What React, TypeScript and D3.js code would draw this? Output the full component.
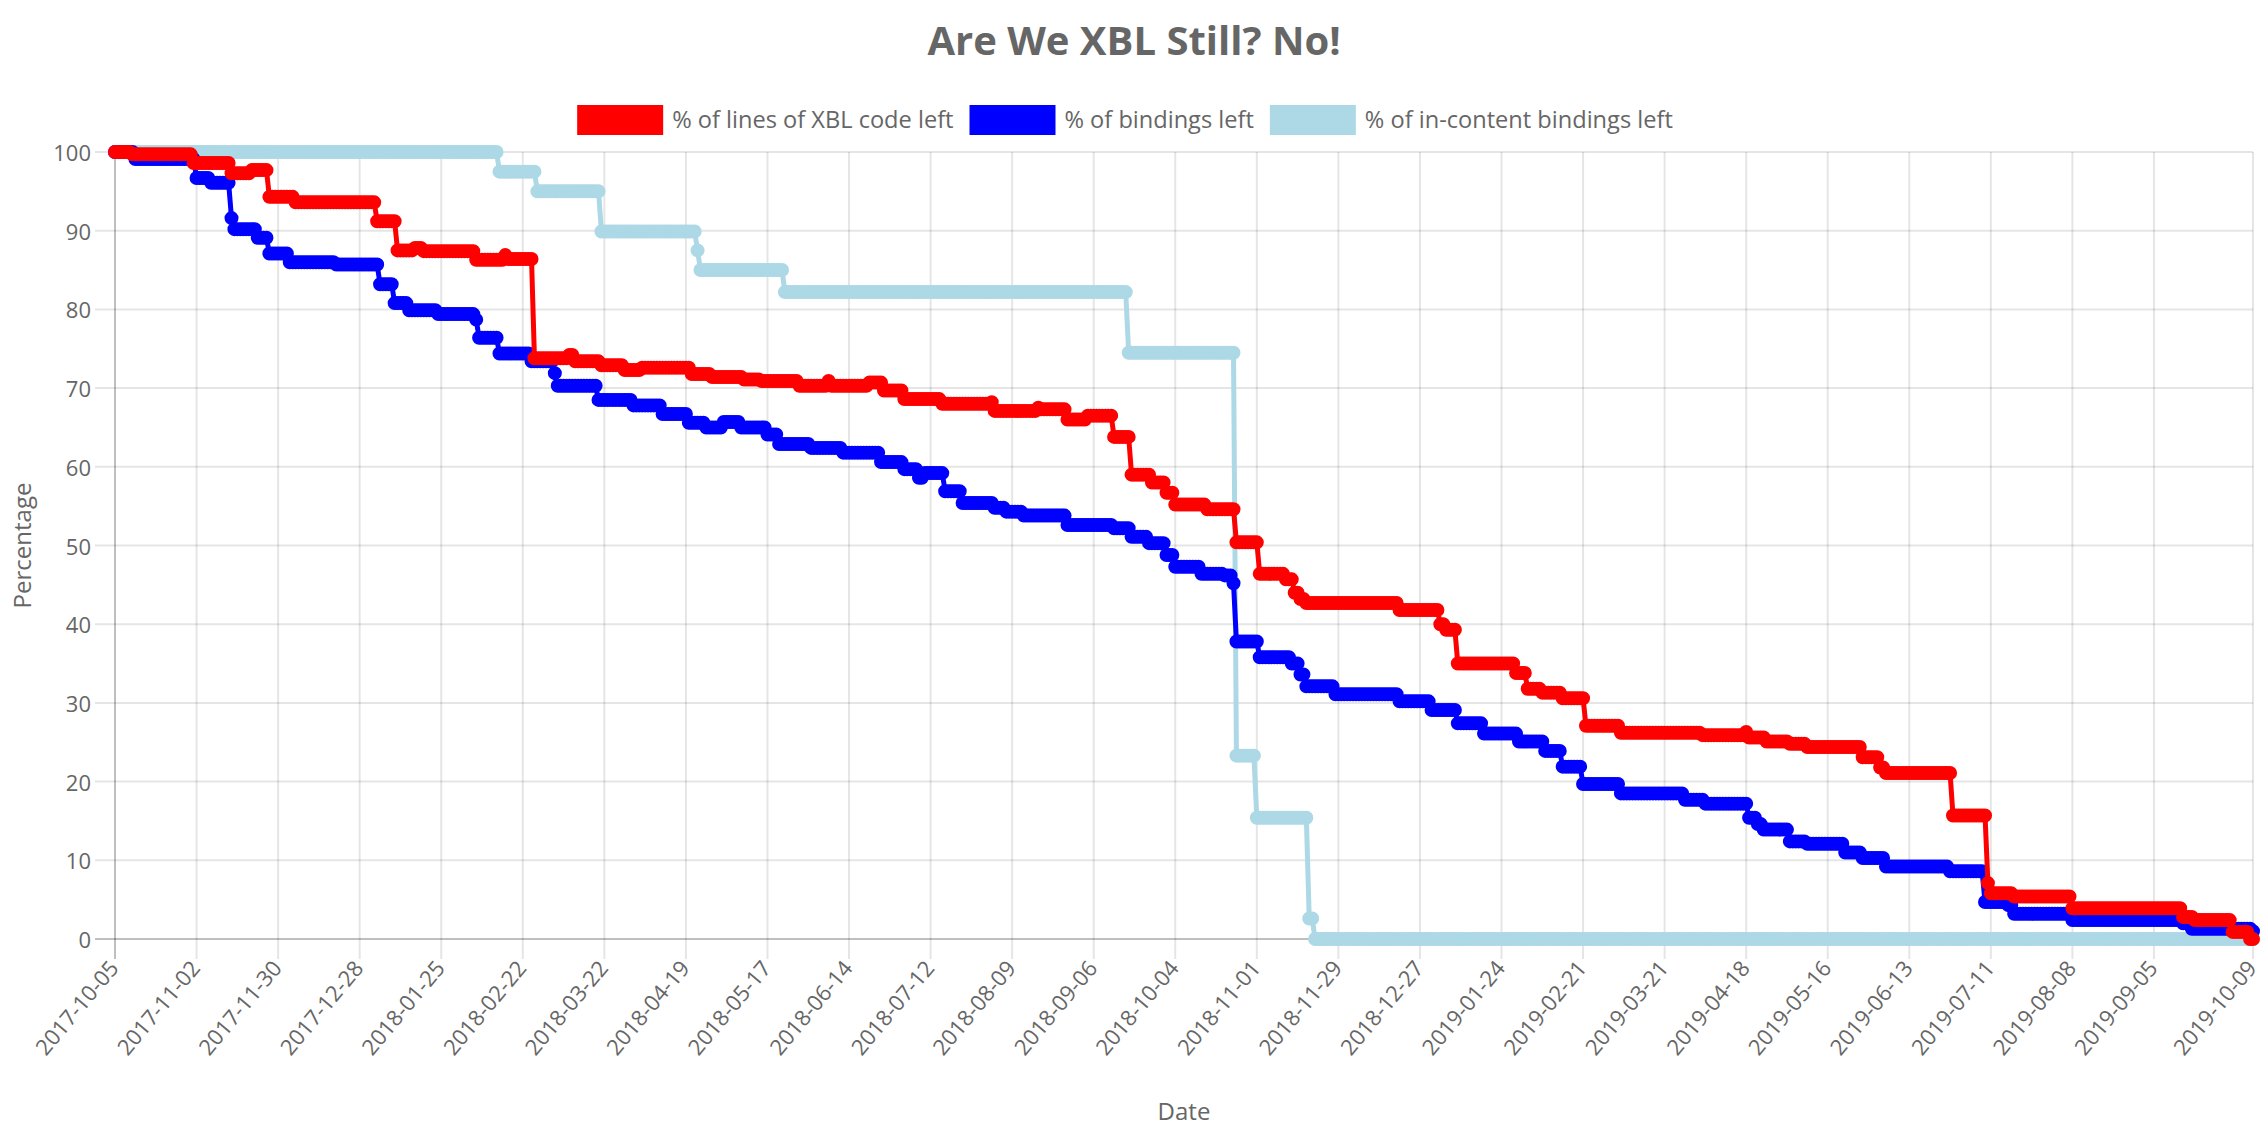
import React from "react";
import * as d3 from "d3";

// ---- Data (step changes: [day offset from 2017-10-05, percentage]) ----
const startDate = "2017-10-05";
const endDate = "2019-10-09";

const tickLabels = [
  "2017-10-05", "2017-11-02", "2017-11-30", "2017-12-28", "2018-01-25", "2018-02-22",
  "2018-03-22", "2018-04-19", "2018-05-17", "2018-06-14", "2018-07-12", "2018-08-09",
  "2018-09-06", "2018-10-04", "2018-11-01", "2018-11-29", "2018-12-27", "2019-01-24",
  "2019-02-21", "2019-03-21", "2019-04-18", "2019-05-16", "2019-06-13", "2019-07-11",
  "2019-08-08", "2019-09-05", "2019-10-09",
];

const yTicks = [0, 10, 20, 30, 40, 50, 60, 70, 80, 90, 100];

const linesOfXBLSteps: [number, number][] = [
  [0, 100], [6, 99.7], [27, 98.6], [40, 97.3], [47, 97.7], [53, 94.3], [62, 93.6],
  [90, 91.2], [97, 87.5], [103, 87.8], [106, 87.4], [124, 86.3], [134, 86.9], [135, 86.4],
  [144, 73.8], [156, 74.2], [158, 73.4], [167, 72.9], [175, 72.3], [181, 72.6],
  [198, 71.8], [205, 71.4], [216, 71.1], [222, 70.9], [235, 70.3], [245, 70.9], [246, 70.3],
  [259, 70.7], [264, 69.7], [271, 68.6], [284, 68.0], [301, 68.2], [302, 67.1], [317, 67.5],
  [318, 67.3], [327, 66.0], [334, 66.5], [343, 63.8], [349, 59.0], [356, 58.0], [361, 56.7],
  [364, 55.2], [375, 54.6], [385, 50.4], [393, 46.4], [402, 45.7], [405, 44.0], [407, 43.2],
  [409, 42.7], [441, 41.8], [455, 40.0], [457, 39.3], [461, 35.0], [481, 33.8], [485, 31.8],
  [490, 31.3], [497, 30.6], [505, 27.1], [517, 26.2], [545, 25.9], [560, 26.3], [561, 25.6],
  [567, 25.1], [575, 24.8], [581, 24.4], [600, 23.1], [606, 21.8], [608, 21.1], [631, 15.7],
  [643, 7.1], [644, 5.8], [652, 5.4], [672, 3.9], [710, 2.8], [714, 2.4], [727, 0.9], [733, 0],
];

const bindingsSteps: [number, number][] = [
  [0, 100], [7, 99.1], [28, 96.7], [33, 96.1], [40, 91.6], [41, 90.2], [49, 89.1], [53, 87.1],
  [60, 86.0], [76, 85.7], [91, 83.2], [96, 80.8], [101, 79.9], [111, 79.4], [124, 78.7],
  [125, 76.4], [132, 74.4], [143, 73.4], [151, 71.9], [152, 70.3], [166, 68.5], [178, 67.8],
  [188, 66.7], [197, 65.6], [203, 65.0], [209, 65.7], [215, 65.0], [224, 64.1], [228, 62.9],
  [239, 62.4], [250, 61.8], [263, 60.6], [271, 59.7], [276, 58.6], [278, 59.2], [285, 56.9],
  [291, 55.4], [302, 54.8], [306, 54.3], [312, 53.8], [327, 52.6], [343, 52.2], [349, 51.1],
  [355, 50.3], [361, 48.8], [364, 47.3], [373, 46.4], [381, 46.2], [384, 45.2], [385, 37.8],
  [393, 35.8], [404, 35.0], [407, 33.6], [409, 32.1], [419, 31.1], [441, 30.2], [452, 29.1],
  [461, 27.4], [470, 26.1], [482, 25.1], [491, 23.9], [497, 21.9], [504, 19.7], [517, 18.5],
  [539, 17.7], [546, 17.2], [561, 15.4], [564, 14.6], [566, 13.9], [575, 12.4], [581, 12.1],
  [594, 11.0], [600, 10.3], [608, 9.2], [630, 8.6], [642, 4.7], [650, 4.3], [652, 3.2],
  [672, 2.4], [710, 2.0], [713, 1.3], [734, 1.0],
];

const inContentSteps: [number, number][] = [
  [0, 100], [132, 97.5], [145, 95.0], [167, 89.9], [200, 87.5], [201, 85.0], [230, 82.2],
  [348, 74.5], [385, 23.3], [392, 15.4], [410, 2.6], [412, 0],
];

const seriesNames = [
  "% of lines of XBL code left",
  "% of bindings left",
  "% of in-content bindings left",
];
const seriesColors = ["red", "blue", "lightblue"];
const seriesSteps = [linesOfXBLSteps, bindingsSteps, inContentSteps];

const W = 2268;
const H = 1134;
const FONT = "'Open Sans', 'Noto Sans', sans-serif";
const TEXT = "#666";

const parse = d3.utcParse("%Y-%m-%d");

function expand(steps: [number, number][], nDays: number) {
  const out: { day: number; v: number }[] = [];
  let k = 0;
  for (let d = 0; d <= nDays; d++) {
    while (k + 1 < steps.length && steps[k + 1][0] <= d) k++;
    out.push({ day: d, v: steps[k][1] });
  }
  return out;
}

function measure(text: string, font: string) {
  const c = document.createElement("canvas").getContext("2d")!;
  c.font = font;
  return c.measureText(text).width;
}

export default function App() {
  const t0 = parse(startDate)!;
  const t1 = parse(endDate)!;
  const nDays = d3.utcDay.count(t0, t1);

  const left = 115, right = 2253, top = 152, bottom = 939;
  const x = d3.scaleUtc().domain([t0, t1]).range([left, right]);
  const y = d3.scaleLinear().domain([0, 100]).range([bottom, top]);

  const line = d3
    .line<{ day: number; v: number }>()
    .x((d) => x(d3.utcDay.offset(t0, d.day)))
    .y((d) => y(d.v));

  const data = seriesSteps.map((s) => expand(s, nDays));

  // legend layout
  const legendSize = 23.6;
  const legendFont = `${legendSize}px ${FONT}`;
  const boxW = 86, boxH = 30, gapBoxText = 9, gapItems = 16;
  const widths = seriesNames.map((n) => measure(n, legendFont));
  const total =
    widths.reduce((a, b) => a + b, 0) + seriesNames.length * (boxW + gapBoxText) + gapItems * (seriesNames.length - 1);
  let lx = W / 2 - total / 2 - 9;
  const legendItems = seriesNames.map((n, i) => {
    const item = { x: lx, name: n, color: seriesColors[i] };
    lx += boxW + gapBoxText + widths[i] + gapItems;
    return item;
  });

  const order = [2, 1, 0];

  return (
    <svg
      width={W}
      height={H}
      style={{ position: "absolute", left: 0, top: 0, background: "#fff" }}
      fontFamily={FONT}
    >
      <text x={W / 2} y={55} textAnchor="middle" fontSize={40} fontWeight="bold" fill={TEXT}>
        Are We XBL Still? No!
      </text>

      {legendItems.map((it) => (
        <g key={it.name}>
          <rect x={it.x} y={105} width={boxW} height={boxH} fill={it.color} />
          <text x={it.x + boxW + gapBoxText} y={128} fontSize={legendSize} fill={TEXT}>
            {it.name}
          </text>
        </g>
      ))}

      {/* horizontal grid + y ticks */}
      {yTicks.map((t) => (
        <g key={"y" + t}>
          <line
            x1={left - 20}
            x2={right}
            y1={y(t)}
            y2={y(t)}
            stroke={t === 0 ? "rgba(0,0,0,0.25)" : "rgba(0,0,0,0.1)"}
            strokeWidth={2}
          />
          <text x={91} y={y(t)} textAnchor="end" dominantBaseline="central" fontSize={22} fill={TEXT}>
            {t}
          </text>
        </g>
      ))}

      {/* vertical grid + x ticks */}
      {tickLabels.map((lab, i) => {
        const xx = x(parse(lab)!);
        return (
          <g key={lab}>
            <line
              x1={xx}
              x2={xx}
              y1={top}
              y2={bottom + 20}
              stroke={i === 0 ? "rgba(0,0,0,0.25)" : "rgba(0,0,0,0.1)"}
              strokeWidth={2}
            />
            <text
              transform={`translate(${xx - 2},${bottom + 24}) rotate(-50)`}
              textAnchor="end"
              dominantBaseline="central"
              fontSize={22}
              fill={TEXT}
            >
              {lab}
            </text>
          </g>
        );
      })}

      <text
        transform={`translate(21,${(top + bottom) / 2}) rotate(-90)`}
        textAnchor="middle"
        dominantBaseline="central"
        fontSize={24}
        fill={TEXT}
      >
        Percentage
      </text>
      <text x={(left + right) / 2} y={1110} textAnchor="middle" dominantBaseline="central" fontSize={24} fill={TEXT}>
        Date
      </text>

      {order.map((si) => (
        <g key={"s" + si}>
          <path d={line(data[si]) || ""} fill="none" stroke={seriesColors[si]} strokeWidth={5} strokeLinejoin="round" />
          {data[si].map((d) => (
            <circle
              key={d.day}
              cx={x(d3.utcDay.offset(t0, d.day))}
              cy={y(d.v)}
              r={6}
              fill={seriesColors[si]}
              stroke={seriesColors[si]}
              strokeWidth={2}
            />
          ))}
        </g>
      ))}
    </svg>
  );
}
